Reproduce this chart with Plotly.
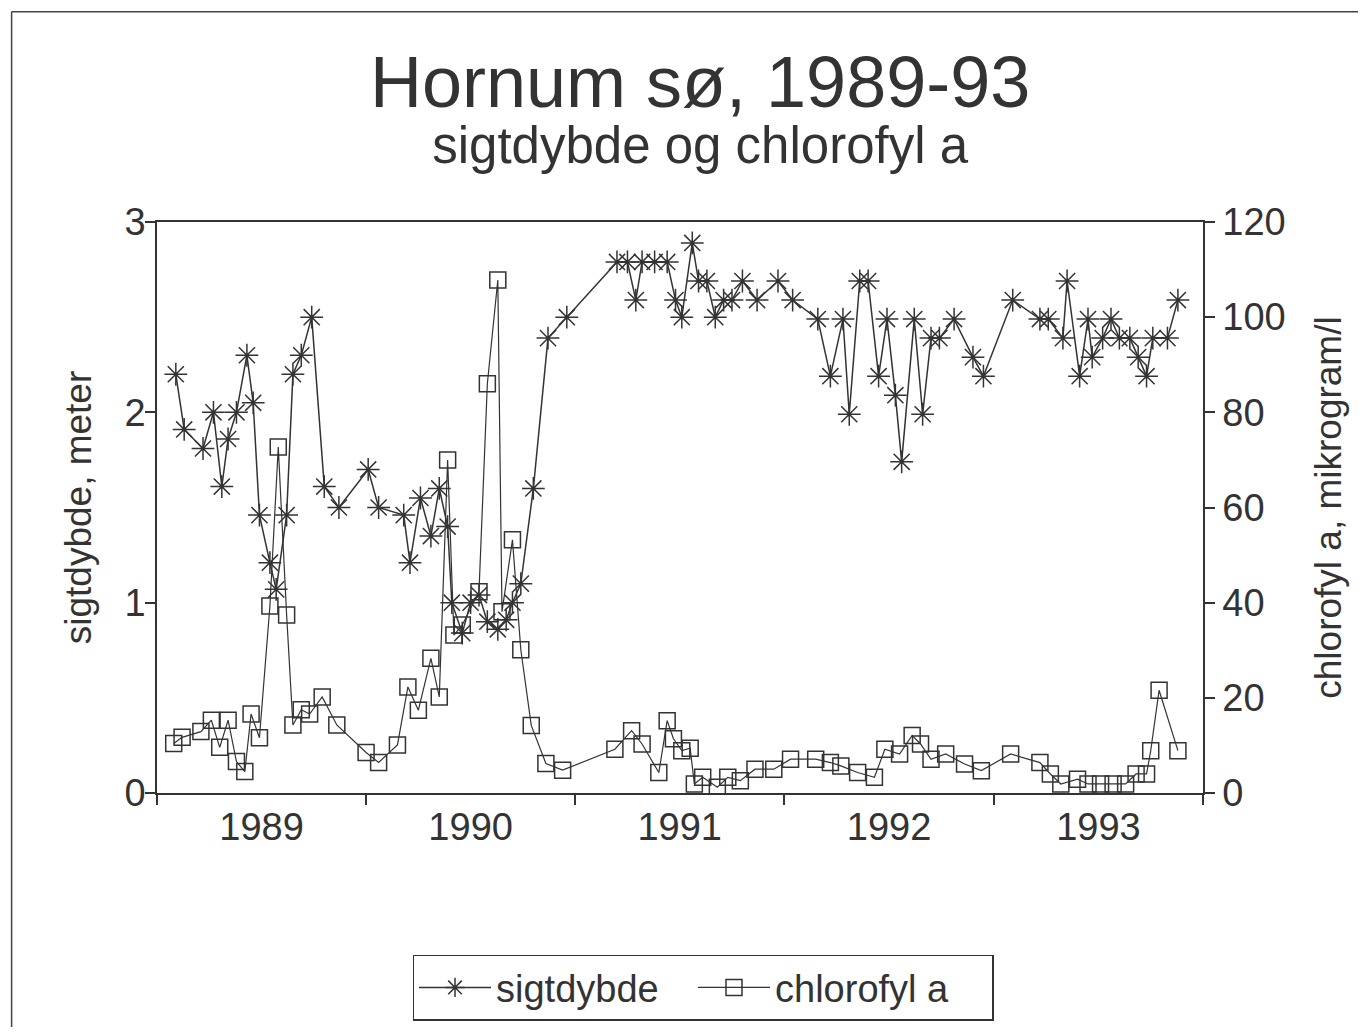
import pandas as pd
import plotly.graph_objects as go

# sample times (decimal years) and values
secchi_t = [1989.09, 1989.13, 1989.22, 1989.27, 1989.31, 1989.34, 1989.38, 1989.43, 1989.46, 1989.49,
            1989.54, 1989.57, 1989.62, 1989.65, 1989.69, 1989.74, 1989.80, 1989.87, 1990.01, 1990.06,
            1990.18, 1990.21, 1990.26, 1990.31, 1990.35, 1990.39, 1990.41, 1990.46, 1990.50, 1990.54,
            1990.58, 1990.63, 1990.67, 1990.70, 1990.74, 1990.80, 1990.87, 1990.96, 1991.20, 1991.25,
            1991.29, 1991.32, 1991.38, 1991.44, 1991.48, 1991.51, 1991.56, 1991.59, 1991.63, 1991.67,
            1991.71, 1991.75, 1991.80, 1991.87, 1991.97, 1992.04, 1992.16, 1992.22, 1992.28, 1992.31,
            1992.36, 1992.40, 1992.45, 1992.49, 1992.53, 1992.56, 1992.62, 1992.66, 1992.70, 1992.74,
            1992.81, 1992.90, 1992.95, 1993.09, 1993.22, 1993.26, 1993.33, 1993.35, 1993.41, 1993.45,
            1993.47, 1993.52, 1993.56, 1993.60, 1993.65, 1993.69, 1993.73, 1993.76, 1993.83, 1993.88]
secchi_m = [2.20, 1.91, 1.81, 2.00, 1.61, 1.86, 2.00, 2.30, 2.05, 1.46,
            1.21, 1.07, 1.46, 2.20, 2.30, 2.50, 1.61, 1.50, 1.70, 1.50,
            1.46, 1.21, 1.55, 1.35, 1.60, 1.40, 1.00, 0.84, 1.00, 1.04,
            0.90, 0.86, 0.91, 1.00, 1.10, 1.60, 2.39, 2.50, 2.79, 2.79,
            2.59, 2.79, 2.79, 2.79, 2.59, 2.50, 2.89, 2.69, 2.69, 2.50,
            2.59, 2.59, 2.69, 2.59, 2.69, 2.59, 2.49, 2.19, 2.49, 1.99,
            2.69, 2.69, 2.19, 2.49, 2.09, 1.74, 2.49, 1.99, 2.39, 2.39,
            2.49, 2.29, 2.19, 2.59, 2.49, 2.49, 2.39, 2.69, 2.19, 2.49,
            2.29, 2.39, 2.49, 2.39, 2.39, 2.29, 2.19, 2.39, 2.39, 2.59]

chl_t = [1989.08, 1989.12, 1989.21, 1989.26, 1989.30, 1989.34, 1989.38, 1989.42, 1989.45, 1989.49,
         1989.54, 1989.58, 1989.62, 1989.65, 1989.69, 1989.73, 1989.79, 1989.86, 1990.00, 1990.06,
         1990.15, 1990.20, 1990.25, 1990.31, 1990.35, 1990.39, 1990.42, 1990.46, 1990.54, 1990.58,
         1990.63, 1990.65, 1990.70, 1990.74, 1990.79, 1990.86, 1990.94, 1991.19, 1991.27, 1991.32,
         1991.40, 1991.44, 1991.47, 1991.51, 1991.55, 1991.57, 1991.61, 1991.68, 1991.73, 1991.79,
         1991.86, 1991.95, 1992.03, 1992.15, 1992.22, 1992.27, 1992.35, 1992.43, 1992.48, 1992.55,
         1992.61, 1992.65, 1992.70, 1992.77, 1992.86, 1992.94, 1993.08, 1993.22, 1993.27, 1993.32,
         1993.40, 1993.45, 1993.51, 1993.57, 1993.63, 1993.68, 1993.73, 1993.75, 1993.79, 1993.88]
chl_ug = [10.4, 11.7, 12.9, 15.3, 9.6, 15.3, 6.6, 4.5, 16.6, 11.6,
          39.3, 72.7, 37.4, 14.3, 17.5, 16.6, 20.2, 14.3, 8.5, 6.4,
          10.1, 22.3, 17.4, 28.3, 20.2, 70.0, 33.2, 35.3, 42.3, 86.0,
          107.8, 38.1, 53.2, 30.1, 14.2, 6.2, 4.8, 9.2, 13.1, 10.3,
          4.3, 15.2, 11.4, 8.9, 9.4, 1.9, 3.3, 1.2, 3.3, 2.6,
          5.0, 5.0, 7.1, 7.1, 6.4, 5.7, 4.3, 3.3, 9.2, 8.2,
          12.1, 10.3, 7.1, 8.2, 6.1, 4.7, 8.2, 6.4, 4.0, 1.9,
          2.9, 1.9, 1.9, 1.9, 1.9, 4.0, 4.0, 8.9, 21.6, 8.9]


def to_date(y):
    yr = int(y)
    start = pd.Timestamp(yr, 1, 1)
    return start + (pd.Timestamp(yr + 1, 1, 1) - start) * (y - yr)


INK = '#333333'
FONT = 'Liberation Sans, Arial, sans-serif'

fig = go.Figure()
fig.add_trace(go.Scatter(x=[to_date(t) for t in secchi_t], y=secchi_m, name='sigtdybde',
                         mode='lines+markers', line={'color': INK, 'width': 1.5}, legendwidth=192,
                         marker={'symbol': 'asterisk-open', 'size': 19, 'color': INK,
                                 'line': {'color': INK, 'width': 1.5}}))
fig.add_trace(go.Scatter(x=[to_date(t) for t in chl_t], y=chl_ug, name='chlorofyl a', yaxis='y2',
                         mode='lines+markers', line={'color': INK, 'width': 1.2}, legendwidth=212,
                         marker={'symbol': 'square-open', 'size': 16, 'color': INK,
                                 'line': {'color': INK, 'width': 1.5}}))

# page body has an 8px margin, so the figure is a little smaller than the window
fig.update_layout(
    width=1350, height=1019,
    paper_bgcolor='white', plot_bgcolor='white',
    font={'family': FONT, 'size': 38, 'color': INK},
    margin={'l': 149, 'r': 155, 't': 214, 'b': 234, 'autoexpand': False},
    showlegend=True,
    legend={'orientation': 'h', 'x': 0.522, 'y': -0.341, 'xanchor': 'center', 'yanchor': 'middle',
            'bordercolor': INK, 'borderwidth': 1.5, 'font': {'size': 38}, 'itemwidth': 72,
            'entrywidthmode': 'pixels', 'bgcolor': 'white'},
    xaxis={'type': 'date', 'range': ['1989-01-01', '1994-01-01'], 'dtick': 'M12', 'tick0': '1989-01-01',
           'tickformat': '%Y', 'ticklabelmode': 'period', 'ticks': 'outside', 'ticklen': 10,
           'tickwidth': 1.5, 'tickcolor': INK, 'showline': True, 'linecolor': INK, 'linewidth': 1.5,
           'mirror': True, 'showgrid': False, 'zeroline': False, 'tickfont': {'size': 38},
           'ticklabelstandoff': -10},
    yaxis={'range': [0, 3], 'dtick': 1, 'ticks': 'outside', 'ticklen': 10, 'tickwidth': 1.5,
           'tickcolor': INK, 'showline': True, 'linecolor': INK, 'linewidth': 1.5,
           'showgrid': False, 'zeroline': False, 'tickfont': {'size': 38}, 'ticklabelstandoff': -8,
           'title': {'text': 'sigtdybde, meter', 'font': {'size': 37}, 'standoff': 22}},
    yaxis2={'range': [0, 120], 'dtick': 20, 'overlaying': 'y', 'side': 'right', 'ticks': 'outside',
            'ticklen': 10, 'tickwidth': 1.5, 'tickcolor': INK, 'showline': True, 'linecolor': INK,
            'linewidth': 1.5, 'showgrid': False, 'zeroline': False, 'tickfont': {'size': 38},
            'title': {'text': 'chlorofyl a, mikrogram/l', 'font': {'size': 37}, 'standoff': 30}},
)

# title and subtitle as one two-line text, line gap set by the small base size
fig.add_annotation(text="<span style='font-size:72px'>Hornum sø, 1989-93</span><br>"
                        "<span style='font-size:51px'>sigtdybde og chlorofyl a</span>",
                   xref='paper', yref='paper', x=0.519, y=1.2, showarrow=False,
                   font={'size': 43, 'color': INK}, yanchor='middle', align='center')

# scanned page frame (top and left edges)
fig.add_shape(type='line', xref='paper', yref='paper', x0=-0.139, x1=1.2, y0=1.368, y1=1.368,
              line={'color': '#444444', 'width': 1.5})
fig.add_shape(type='line', xref='paper', yref='paper', x0=-0.139, x1=-0.139, y0=-0.43, y1=1.368,
              line={'color': '#444444', 'width': 1.5})

fig.write_html('out.html')
